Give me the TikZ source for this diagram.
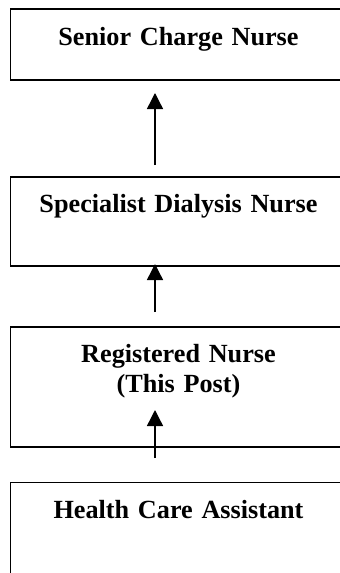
\documentclass[tikz,border=0pt]{standalone}
\usepackage{fontspec}
\setmainfont{Liberation Serif}
\usetikzlibrary{arrows.meta}

\tikzset{
  postbox/.style={draw, line width=1.7pt, anchor=north west, inner sep=0pt, outer sep=0pt,
    text width=336pt, align=center, text height=35pt,
    font=\fontsize{26.2}{30}\selectfont\bfseries},
  uparrow/.style={-{Triangle[length=16pt,width=16pt]}, line width=1.4pt}
}

\begin{document}
\begin{tikzpicture}[x=1pt, y=-1pt]

    \useasboundingbox (0, 0) rectangle (340, 573);

    % Cajas
    \node[postbox, text height=36pt, text depth=35pt] (senior) at (10.5, 9) {Senior Charge Nurse};
    \node[postbox, text depth=54pt] (spec) at (10.5, 177) {Specialist Dialysis Nurse};
    \node[postbox, text depth=85pt] (reg) at (10.5, 327) {Registered Nurse\\(This Post)};
    \node[postbox, text height=35.5pt, text depth=110pt] (hca) at (10.5, 482.5) {Health Care Assistant};

    % Flechas
    \draw[uparrow] ([xshift=-23.5pt, yshift=12pt]spec.north) -- ([xshift=-23.5pt, yshift=-13pt]senior.south);
    \draw[uparrow] ([xshift=-23.5pt, yshift=15pt]reg.north) -- ([xshift=-23.5pt, yshift=2pt]spec.south);
    \draw[uparrow] ([xshift=-23.5pt, yshift=24.5pt]hca.north) -- ([xshift=-23.5pt, yshift=37pt]reg.south);

  \end{tikzpicture}
\end{document}
